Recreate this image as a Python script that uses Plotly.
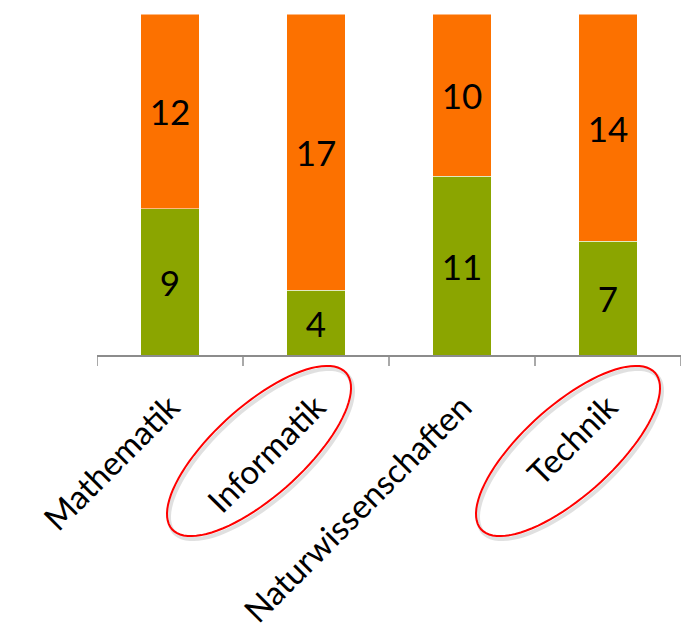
import math
import plotly.graph_objects as go

categories = ["Mathematik", "Informatik", "Naturwissenschaften", "Technik"]
green_values = [9, 4, 11, 7]
orange_values = [12, 17, 10, 14]
highlighted = ["Informatik", "Technik"]

W, H = 686, 629
ML, MR, MT, MB = 97, 5, 14, 274
PW, PH = W - ML - MR, H - MT - MB

GREEN = "#8BA500"
ORANGE = "#FC7100"
AXIS = "#8C8C8C"
FONT = "Lato"

fig = go.Figure()
fig.add_trace(go.Bar(
    x=categories, y=green_values, marker_color=GREEN,
    marker_line=dict(color="rgba(255,255,255,0.5)", width=1),
    text=[str(v) for v in green_values], textposition="inside",
    insidetextanchor="middle", textangle=0,
    textfont=dict(family=FONT, size=35, color="black"),
))
fig.add_trace(go.Bar(
    x=categories, y=orange_values, marker_color=ORANGE,
    marker_line=dict(color="rgba(255,255,255,0.5)", width=1),
    text=[str(v) for v in orange_values], textposition="inside",
    insidetextanchor="middle", textangle=0,
    textfont=dict(family=FONT, size=35, color="black"),
))


def ellipse_path(cx, cy, a, b, theta_deg, dx=0.0, dy=0.0, n=90):
    th = math.radians(theta_deg)
    pts = []
    for i in range(n):
        t = 2 * math.pi * i / n
        ex, ey = a * math.cos(t), b * math.sin(t)
        px = cx + dx + ex * math.cos(th) + ey * math.sin(th)
        py = cy + dy - ex * math.sin(th) + ey * math.cos(th)
        xp = (px - ML) / PW
        yp = (MT + PH - py) / PH
        pts.append(f"{xp:.5f},{yp:.5f}")
    return "M" + " L".join(pts) + " Z"


shapes = []
# boundary tick marks (axis decoration)
for k in range(len(categories) + 1):
    shapes.append(dict(type="line", xref="x", yref="paper",
                       x0=k - 0.5, x1=k - 0.5, y0=0, y1=-11 / PH,
                       line=dict(color=AXIS, width=1.5)))

cat_w = PW / len(categories)
for name in highlighted:
    i = categories.index(name)
    ccx = ML + cat_w * (i + 0.5)
    off = -57 if name == "Informatik" else -40
    cx, cy = ccx + off, 451
    shapes.append(dict(type="path", xref="paper", yref="paper",
                       path=ellipse_path(cx, cy, 117, 45, 42, 2, 3),
                       line=dict(color="rgba(0,0,0,0.12)", width=4)))
    shapes.append(dict(type="path", xref="paper", yref="paper",
                       path=ellipse_path(cx, cy, 117, 45, 42),
                       line=dict(color="#FF0000", width=2)))

fig.update_layout(
    barmode="stack",
    bargap=0.6,
    width=W, height=H,
    margin=dict(l=ML, r=MR, t=MT, b=MB, autoexpand=False),
    paper_bgcolor="white", plot_bgcolor="white",
    showlegend=False,
    uniformtext=dict(mode=False),
    shapes=shapes,
    xaxis=dict(
        range=[-0.5, len(categories) - 0.5],
        showline=True, linecolor=AXIS, linewidth=1.5,
        ticks="outside", ticklen=18, tickcolor="rgba(0,0,0,0)",
        tickangle=-45, tickfont=dict(family=FONT, size=33, color="black"),
        showgrid=False, zeroline=False, fixedrange=True,
    ),
    yaxis=dict(range=[0, 21], visible=False, showgrid=False, zeroline=False),
)

fig.write_html("out.html")
